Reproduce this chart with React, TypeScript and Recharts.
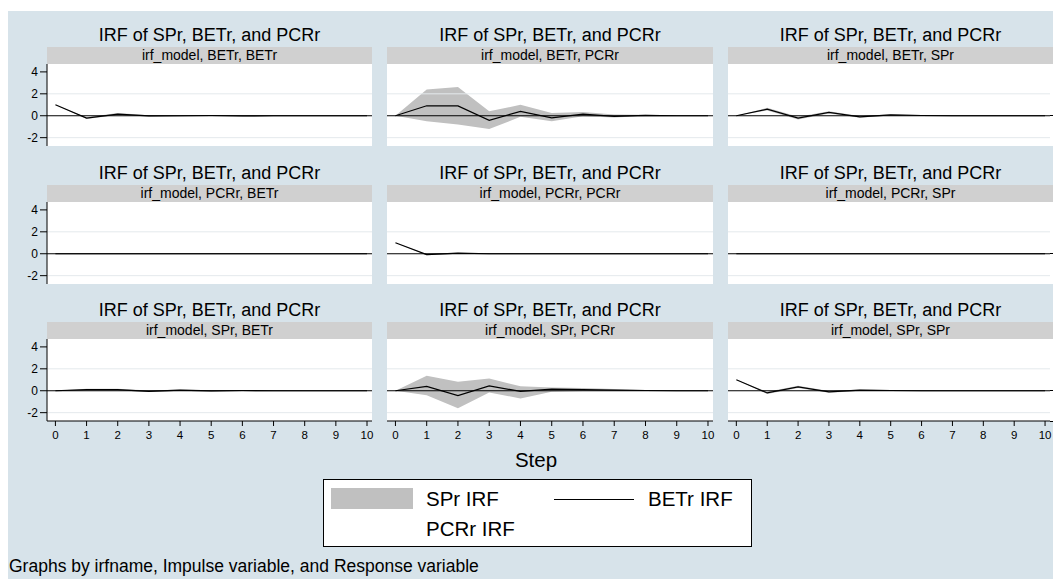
import React from 'react';
import { ComposedChart, Area, Line, XAxis, YAxis, ReferenceLine } from 'recharts';

// steps of the impulse response
const steps = [0, 1, 2, 3, 4, 5, 6, 7, 8, 9, 10];
const yTicks = [-2, 0, 2, 4];
const panelTitle = 'IRF of SPr, BETr, and PCRr';

// impulse BETr
const betrBetrIrf = [1.0, -0.22, 0.15, -0.02, 0.0, 0.02, -0.02, 0.0, 0.0, 0.0, 0.0];
const betrBetrLo = [1.0, -0.3, 0.06, -0.08, -0.05, -0.03, -0.05, -0.02, -0.01, -0.01, 0.0];
const betrBetrHi = [1.0, -0.14, 0.24, 0.04, 0.05, 0.06, 0.01, 0.02, 0.01, 0.01, 0.0];

const betrPcrrIrf = [0, 0.91, 0.9, -0.42, 0.4, -0.2, 0.15, -0.05, 0.03, 0.0, 0.0];
const betrPcrrLo = [0, -0.5, -0.8, -1.2, -0.1, -0.5, -0.05, -0.15, -0.03, -0.03, -0.01];
const betrPcrrHi = [0, 2.4, 2.62, 0.4, 1.0, 0.25, 0.35, 0.12, 0.08, 0.03, 0.01];

const betrSprIrf = [0, 0.6, -0.22, 0.3, -0.1, 0.08, 0.02, 0.0, 0.0, 0.0, 0.0];
const betrSprLo = [0, 0.48, -0.34, 0.2, -0.18, 0.02, -0.02, -0.03, -0.02, -0.01, 0];
const betrSprHi = [0, 0.72, -0.1, 0.4, -0.02, 0.14, 0.06, 0.03, 0.02, 0.01, 0];

// impulse PCRr
const pcrrBetrIrf = [0, 0, 0, 0, 0, 0, 0, 0, 0, 0, 0];
const pcrrBetrLo = [0, 0, 0, 0, 0, 0, 0, 0, 0, 0, 0];
const pcrrBetrHi = [0, 0, 0, 0, 0, 0, 0, 0, 0, 0, 0];

const pcrrPcrrIrf = [1.0, -0.08, 0.05, 0.0, 0.0, 0.0, 0.0, 0.0, 0.0, 0.0, 0.0];
const pcrrPcrrLo = [1.0, -0.13, 0.01, -0.02, -0.01, 0, 0, 0, 0, 0, 0];
const pcrrPcrrHi = [1.0, -0.03, 0.09, 0.02, 0.01, 0, 0, 0, 0, 0, 0];

const pcrrSprIrf = [0, 0, 0, 0, 0, 0, 0, 0, 0, 0, 0];
const pcrrSprLo = [0, 0, 0, 0, 0, 0, 0, 0, 0, 0, 0];
const pcrrSprHi = [0, 0, 0, 0, 0, 0, 0, 0, 0, 0, 0];

// impulse SPr
const sprBetrIrf = [0, 0.1, 0.1, -0.05, 0.05, -0.02, 0.02, 0.0, 0.0, 0.0, 0.0];
const sprBetrLo = [0, 0.02, 0.02, -0.12, -0.02, -0.07, -0.02, -0.03, -0.01, -0.01, 0];
const sprBetrHi = [0, 0.18, 0.18, 0.02, 0.12, 0.03, 0.06, 0.03, 0.01, 0.01, 0];

const sprPcrrIrf = [0, 0.4, -0.45, 0.45, -0.06, 0.15, 0.1, 0.05, 0.02, 0.0, 0.0];
const sprPcrrLo = [0, -0.4, -1.6, -0.15, -0.7, -0.1, -0.03, -0.02, -0.02, -0.01, 0];
const sprPcrrHi = [0, 1.36, 0.82, 1.12, 0.4, 0.3, 0.25, 0.15, 0.06, 0.02, 0.01];

const sprSprIrf = [1.0, -0.2, 0.35, -0.1, 0.05, 0.02, 0.0, 0.0, 0.0, 0.0, 0.0];
const sprSprLo = [1.0, -0.3, 0.25, -0.18, -0.02, -0.03, -0.03, -0.01, 0, 0, 0];
const sprSprHi = [1.0, -0.1, 0.45, -0.02, 0.12, 0.07, 0.03, 0.01, 0, 0, 0];

const panels = [
  { sub: 'irf_model, BETr, BETr', irf: betrBetrIrf, lo: betrBetrLo, hi: betrBetrHi },
  { sub: 'irf_model, BETr, PCRr', irf: betrPcrrIrf, lo: betrPcrrLo, hi: betrPcrrHi },
  { sub: 'irf_model, BETr, SPr', irf: betrSprIrf, lo: betrSprLo, hi: betrSprHi },
  { sub: 'irf_model, PCRr, BETr', irf: pcrrBetrIrf, lo: pcrrBetrLo, hi: pcrrBetrHi },
  { sub: 'irf_model, PCRr, PCRr', irf: pcrrPcrrIrf, lo: pcrrPcrrLo, hi: pcrrPcrrHi },
  { sub: 'irf_model, PCRr, SPr', irf: pcrrSprIrf, lo: pcrrSprLo, hi: pcrrSprHi },
  { sub: 'irf_model, SPr, BETr', irf: sprBetrIrf, lo: sprBetrLo, hi: sprBetrHi },
  { sub: 'irf_model, SPr, PCRr', irf: sprPcrrIrf, lo: sprPcrrLo, hi: sprPcrrHi },
  { sub: 'irf_model, SPr, SPr', irf: sprSprIrf, lo: sprSprLo, hi: sprSprHi },
];

const FONT = '"Liberation Sans", Arial, Helvetica, sans-serif';
const BG = '#d7e3ea';
const colX = [47, 387, 728];
const colW = [325, 326, 325];
const plotW = [325, 326, 322];
const rowY = [64, 201.5, 339];
const PH = 82;
const RIGHT_PAD = 8; // room so the "10" tick label is not clipped

function Panel({ p, col, row }: { p: typeof panels[0]; col: number; row: number }) {
  const left = colX[col];
  const top = rowY[row];
  const W = colW[col];
  const PW = plotW[col];
  const showY = col === 0;
  const showX = row === 2;
  const yW = showY ? 40 : 0;
  const xH = showX ? 30 : 0;
  const data = steps.map((s, i) => ({ step: s, irf: p.irf[i], band: [p.lo[i], p.hi[i]] }));

  return (
    <>
      <div style={{ position: 'absolute', left, top: top - 40, width: W, height: 22, lineHeight: '22px',
        textAlign: 'center', fontSize: 18, color: '#000' }}>{panelTitle}</div>
      <div style={{ position: 'absolute', left, top: top - 17, width: W, height: 17, lineHeight: '17px',
        background: '#d0d0d0', textAlign: 'center', fontSize: 14, color: '#000' }}>{p.sub}</div>
      <div style={{ position: 'absolute', left, top, width: W, height: PH, background: '#fff' }} />
      <div style={{ position: 'absolute', left: left - yW, top }}>
        <ComposedChart width={PW + yW + RIGHT_PAD} height={PH + xH} data={data}
          margin={{ top: 0, right: RIGHT_PAD, bottom: 0, left: 0 }}>
          <XAxis type="number" dataKey="step" domain={[-0.27, 10.16]} ticks={steps} interval={0} allowDataOverflow
            hide={!showX} height={30} axisLine={{ stroke: '#000' }} tickLine={{ stroke: '#000' }}
            tickSize={5} tickMargin={5} tick={{ fontSize: 11.5, fill: '#000', fontFamily: FONT }} />
          <YAxis type="number" domain={[-2.76, 4.72]} ticks={yTicks} interval={0} allowDataOverflow
            hide={!showY} width={40} axisLine={{ stroke: '#000' }} tickLine={{ stroke: '#000' }}
            tickSize={7} tickMargin={2} tick={{ fontSize: 12, fill: '#000', fontFamily: FONT }} />
          <ReferenceLine y={2} stroke="#e4e9ec" strokeWidth={1} />
          <ReferenceLine y={-2} stroke="#e4e9ec" strokeWidth={1} />
          <ReferenceLine y={0} stroke="#000" strokeWidth={1.2} />
          <Area type="linear" dataKey="band" stroke="none" fill="#c0c0c0" fillOpacity={1} isAnimationActive={false} />
          <Line type="linear" dataKey="irf" stroke="#000" strokeWidth={1.2} dot={false} isAnimationActive={false} />
        </ComposedChart>
      </div>
      {/* x axis line and zero line reach the panel's right edge */}
      {PW < W && (
        <div style={{ position: 'absolute', left: left + PW, top: top + PH * (4.72 / 7.48) - 0.6, width: W - PW,
          height: 1.2, background: '#000' }} />
      )}
      {PW < W && showX && (
        <div style={{ position: 'absolute', left: left + PW, top: top + PH - 0.5, width: W - PW,
          height: 1, background: '#000' }} />
      )}
    </>
  );
}

export default function App() {
  return (
    <div style={{ position: 'fixed', left: 0, top: 0, width: 1053, height: 579, background: '#fff',
      overflow: 'hidden', fontFamily: FONT }}>
      <div style={{ position: 'absolute', left: 8, top: 11, width: 1045, height: 568, background: BG }} />
      {panels.map((p, i) => (
        <Panel key={p.sub} p={p} col={i % 3} row={Math.floor(i / 3)} />
      ))}
      <div style={{ position: 'absolute', left: 436, top: 447, width: 200, height: 26, lineHeight: '26px',
        textAlign: 'center', fontSize: 20.5, color: '#000' }}>Step</div>
      {/* legend */}
      <div style={{ position: 'absolute', left: 322.5, top: 479, width: 427, height: 66, background: '#fff',
        border: '1px solid #000' }} />
      <div style={{ position: 'absolute', left: 331, top: 488, width: 82, height: 21, background: '#c0c0c0' }} />
      <div style={{ position: 'absolute', left: 426, top: 486, height: 26, lineHeight: '26px', fontSize: 20.5 }}>SPr IRF</div>
      <div style={{ position: 'absolute', left: 554, top: 498.5, width: 80, height: 1.3, background: '#000' }} />
      <div style={{ position: 'absolute', left: 648, top: 486, height: 26, lineHeight: '26px', fontSize: 20.5 }}>BETr IRF</div>
      <div style={{ position: 'absolute', left: 426, top: 516, height: 26, lineHeight: '26px', fontSize: 20.5 }}>PCRr IRF</div>
      <div style={{ position: 'absolute', left: 9, top: 555, height: 22, lineHeight: '22px', fontSize: 17.5,
        whiteSpace: 'nowrap' }}>Graphs by irfname, Impulse variable, and Response variable</div>
    </div>
  );
}
